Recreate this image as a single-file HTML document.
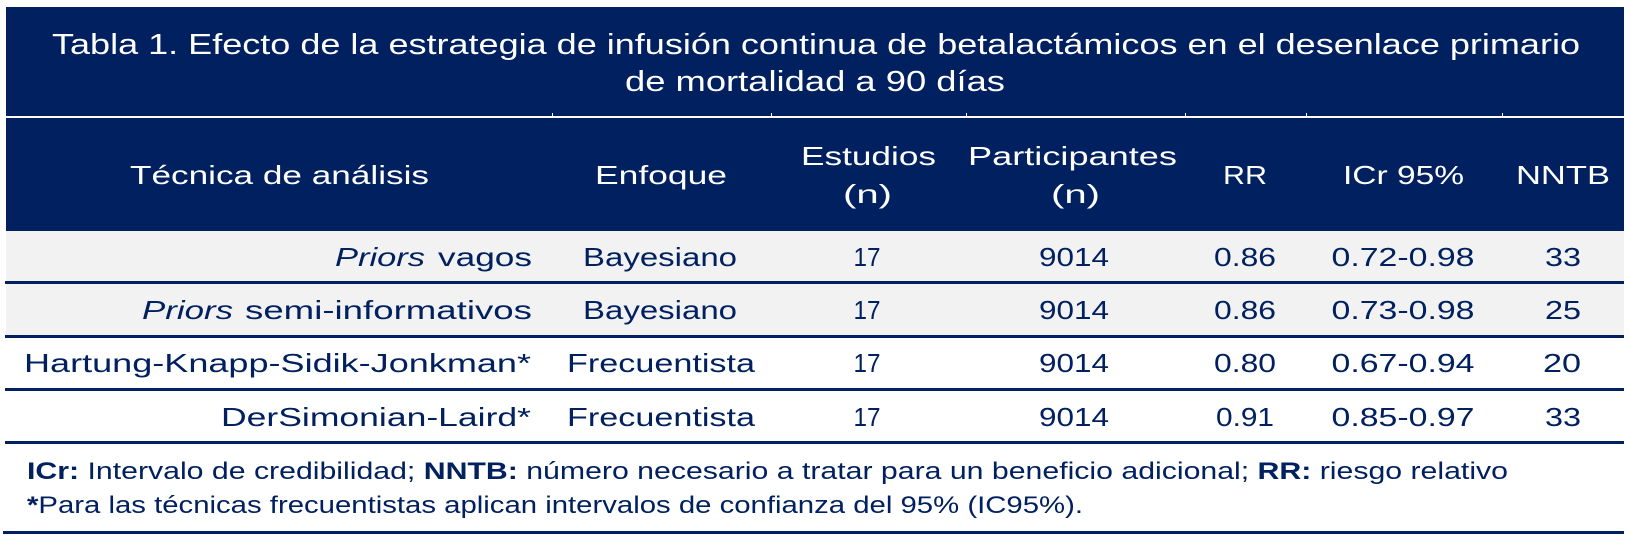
<!DOCTYPE html>
<html>
<head>
<meta charset="utf-8">
<style>
  html,body{margin:0;padding:0;background:#fff;}
  svg{display:block;}
  text{font-family:"Liberation Sans",sans-serif;}
</style>
</head>
<body>
<svg width="1630" height="538" viewBox="0 0 1630 538" xmlns="http://www.w3.org/2000/svg">
  <rect x="0" y="0" width="1630" height="538" fill="#ffffff"/>
  <!-- header band -->
  <rect x="6" y="7" width="1618" height="224" fill="#002060"/>
  <rect x="6" y="116" width="1618" height="2" fill="#ffffff"/>
  <g fill="#ffffff">
    <rect x="552" y="113" width="1" height="3"/>
    <rect x="771" y="113" width="1" height="3"/>
    <rect x="966" y="113" width="1" height="3"/>
    <rect x="1185" y="113" width="1" height="3"/>
    <rect x="1306" y="113" width="1" height="3"/>
    <rect x="1502" y="113" width="1" height="3"/>
  </g>

  <!-- title -->
  <g fill="#ffffff" font-size="29">
    <text x="52" y="54" textLength="1528" lengthAdjust="spacingAndGlyphs">Tabla 1. Efecto de la estrategia de infusión continua de betalactámicos en el desenlace primario</text>
    <text x="625" y="91" textLength="380" lengthAdjust="spacingAndGlyphs">de mortalidad a 90 días</text>
  </g>

  <!-- column headers -->
  <g fill="#ffffff" font-size="26">
    <text x="130" y="184" textLength="299" lengthAdjust="spacingAndGlyphs">Técnica de análisis</text>
    <text x="595" y="184" textLength="132" lengthAdjust="spacingAndGlyphs">Enfoque</text>
    <text x="801" y="165" textLength="135" lengthAdjust="spacingAndGlyphs">Estudios</text>
    <text x="843" y="203" textLength="49" lengthAdjust="spacingAndGlyphs">(n)</text>
    <text x="968" y="165" textLength="209" lengthAdjust="spacingAndGlyphs">Participantes</text>
    <text x="1051" y="203" textLength="49" lengthAdjust="spacingAndGlyphs">(n)</text>
    <text x="1223" y="184" textLength="44" lengthAdjust="spacingAndGlyphs">RR</text>
    <text x="1343" y="184" textLength="121" lengthAdjust="spacingAndGlyphs">ICr 95%</text>
    <text x="1516" y="184" textLength="94" lengthAdjust="spacingAndGlyphs">NNTB</text>
  </g>

  <!-- rows background -->
  <rect x="6" y="231" width="1618" height="50" fill="#f2f2f2"/>
  <rect x="6" y="284" width="1618" height="51" fill="#f2f2f2"/>
  <!-- row lines -->
  <g fill="#002060">
    <rect x="5" y="281" width="1619" height="3"/>
    <rect x="5" y="335" width="1619" height="3"/>
    <rect x="5" y="388" width="1619" height="3"/>
    <rect x="5" y="441" width="1619" height="3"/>
    <rect x="3" y="531" width="1621" height="3"/>
  </g>

  <!-- body -->
  <g fill="#002060" font-size="26">
    <!-- row 1 -->
    <text x="335" y="266" font-style="italic" textLength="90" lengthAdjust="spacingAndGlyphs">Priors</text>
    <text x="438" y="266" textLength="94" lengthAdjust="spacingAndGlyphs">vagos</text>
    <text x="583" y="266" textLength="154" lengthAdjust="spacingAndGlyphs">Bayesiano</text>
    <text x="867" y="266" text-anchor="middle" textLength="27" lengthAdjust="spacingAndGlyphs">17</text>
    <text x="1074" y="266" text-anchor="middle" textLength="70" lengthAdjust="spacingAndGlyphs">9014</text>
    <text x="1245" y="266" text-anchor="middle" textLength="62" lengthAdjust="spacingAndGlyphs">0.86</text>
    <text x="1403" y="266" text-anchor="middle" textLength="143" lengthAdjust="spacingAndGlyphs">0.72-0.98</text>
    <text x="1563" y="266" text-anchor="middle" textLength="36" lengthAdjust="spacingAndGlyphs">33</text>
    <!-- row 2 -->
    <text x="142" y="319" font-style="italic" textLength="91" lengthAdjust="spacingAndGlyphs">Priors</text>
    <text x="245" y="319" textLength="287" lengthAdjust="spacingAndGlyphs">semi-informativos</text>
    <text x="583" y="319" textLength="154" lengthAdjust="spacingAndGlyphs">Bayesiano</text>
    <text x="867" y="319" text-anchor="middle" textLength="27" lengthAdjust="spacingAndGlyphs">17</text>
    <text x="1074" y="319" text-anchor="middle" textLength="70" lengthAdjust="spacingAndGlyphs">9014</text>
    <text x="1245" y="319" text-anchor="middle" textLength="62" lengthAdjust="spacingAndGlyphs">0.86</text>
    <text x="1403" y="319" text-anchor="middle" textLength="143" lengthAdjust="spacingAndGlyphs">0.73-0.98</text>
    <text x="1563" y="319" text-anchor="middle" textLength="36" lengthAdjust="spacingAndGlyphs">25</text>
    <!-- row 3 -->
    <text x="24" y="372" textLength="507" lengthAdjust="spacingAndGlyphs">Hartung-Knapp-Sidik-Jonkman*</text>
    <text x="567" y="372" textLength="188" lengthAdjust="spacingAndGlyphs">Frecuentista</text>
    <text x="867" y="372" text-anchor="middle" textLength="27" lengthAdjust="spacingAndGlyphs">17</text>
    <text x="1074" y="372" text-anchor="middle" textLength="70" lengthAdjust="spacingAndGlyphs">9014</text>
    <text x="1245" y="372" text-anchor="middle" textLength="62" lengthAdjust="spacingAndGlyphs">0.80</text>
    <text x="1403" y="372" text-anchor="middle" textLength="143" lengthAdjust="spacingAndGlyphs">0.67-0.94</text>
    <text x="1562" y="372" text-anchor="middle" textLength="38" lengthAdjust="spacingAndGlyphs">20</text>
    <!-- row 4 -->
    <text x="221" y="426" textLength="310" lengthAdjust="spacingAndGlyphs">DerSimonian-Laird*</text>
    <text x="567" y="426" textLength="188" lengthAdjust="spacingAndGlyphs">Frecuentista</text>
    <text x="867" y="426" text-anchor="middle" textLength="27" lengthAdjust="spacingAndGlyphs">17</text>
    <text x="1074" y="426" text-anchor="middle" textLength="70" lengthAdjust="spacingAndGlyphs">9014</text>
    <text x="1245" y="426" text-anchor="middle" textLength="58" lengthAdjust="spacingAndGlyphs">0.91</text>
    <text x="1403" y="426" text-anchor="middle" textLength="143" lengthAdjust="spacingAndGlyphs">0.85-0.97</text>
    <text x="1563" y="426" text-anchor="middle" textLength="36" lengthAdjust="spacingAndGlyphs">33</text>
  </g>

  <!-- footer -->
  <g fill="#002060" font-size="24">
    <text x="27" y="479" textLength="1481" lengthAdjust="spacingAndGlyphs"><tspan font-weight="bold">ICr:</tspan> Intervalo de credibilidad; <tspan font-weight="bold">NNTB:</tspan> número necesario a tratar para un beneficio adicional; <tspan font-weight="bold">RR:</tspan> riesgo relativo</text>
    <text x="27" y="513" textLength="1056" lengthAdjust="spacingAndGlyphs"><tspan font-weight="bold">*</tspan>Para las técnicas frecuentistas aplican intervalos de confianza del 95% (IC95%).</text>
  </g>
</svg>
</body>
</html>
